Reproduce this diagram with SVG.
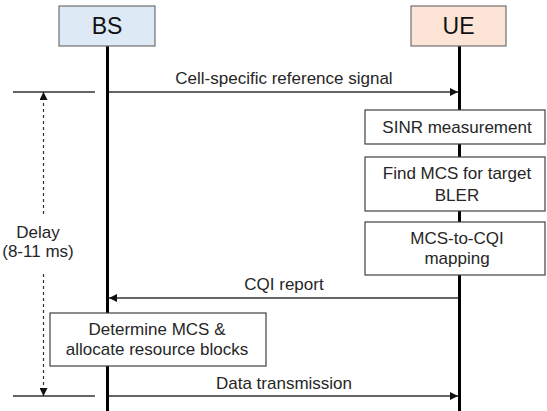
<svg xmlns="http://www.w3.org/2000/svg" width="547" height="411" viewBox="0 0 547 411">
<style>
.t{font-family:"Liberation Sans",Arial,sans-serif;font-size:17px;fill:#262626;text-anchor:middle}
.h{font-size:23px;fill:#111}
.box{fill:#fff;stroke:#404040;stroke-width:1.2}
.life{stroke:#000;stroke-width:3}
.msg{stroke:#333;stroke-width:1.3;fill:none}
.tick{stroke:#333;stroke-width:1.3}
.dash{stroke:#333;stroke-width:1.2;stroke-dasharray:3 3;fill:none}
</style>
<defs>
<marker id="ah" viewBox="0 0 10 10" refX="10" refY="5" markerWidth="9" markerHeight="8" markerUnits="userSpaceOnUse" orient="auto"><path d="M0,0 L10,5 L0,10 z" fill="#111"/></marker>
</defs>
<g id="lifelines">
<line class="life" x1="107.5" y1="46" x2="107.5" y2="411"/>
<line class="life" x1="459.5" y1="46" x2="459.5" y2="411"/>
</g>
<g id="bs">
<rect x="59" y="6" width="96" height="40" fill="#dde9f5" stroke="#6f6f6f" stroke-width="1.2"/>
<text class="t h" x="107" y="34">BS</text>
</g>
<g id="ue">
<rect x="411" y="6" width="95" height="40" fill="#fce5d6" stroke="#6f6f6f" stroke-width="1.2"/>
<text class="t h" x="458.5" y="34">UE</text>
</g>
<g id="connectors">
<line class="msg" x1="109" y1="92" x2="458" y2="92" marker-end="url(#ah)"/>
<line class="msg" x1="458" y1="298" x2="109" y2="298" marker-end="url(#ah)"/>
<line class="msg" x1="109" y1="396" x2="458" y2="396" marker-end="url(#ah)"/>
<line class="tick" x1="13" y1="92" x2="95" y2="92"/>
<line class="tick" x1="13" y1="396" x2="95" y2="396"/>
<line class="dash" x1="43.5" y1="214" x2="43.5" y2="92" marker-end="url(#ah)"/>
<line class="dash" x1="43.5" y1="274" x2="43.5" y2="396" marker-end="url(#ah)"/>
</g>
<g id="labels">
<text class="t" x="284" y="84">Cell-specific reference signal</text>
<text class="t" x="284" y="290">CQI report</text>
<text class="t" x="284" y="389">Data transmission</text>
<text class="t" x="38" y="238">Delay</text>
<text class="t" x="38" y="257">(8-11 ms)</text>
</g>
<g id="sinr">
<rect class="box" x="365" y="110" width="180" height="34"/>
<text class="t" x="457" y="133">SINR measurement</text>
</g>
<g id="findmcs">
<rect class="box" x="365" y="157" width="180" height="54"/>
<text class="t" x="457" y="179">Find MCS for target</text>
<text class="t" x="457" y="201">BLER</text>
</g>
<g id="mcs2cqi">
<rect class="box" x="365" y="222" width="180" height="53"/>
<text class="t" x="457" y="244">MCS-to-CQI</text>
<text class="t" x="457" y="264">mapping</text>
</g>
<g id="determine">
<rect class="box" x="50" y="313" width="216" height="53"/>
<text class="t" x="157" y="335">Determine MCS &amp;</text>
<text class="t" x="157" y="355">allocate resource blocks</text>
</g>
</svg>
